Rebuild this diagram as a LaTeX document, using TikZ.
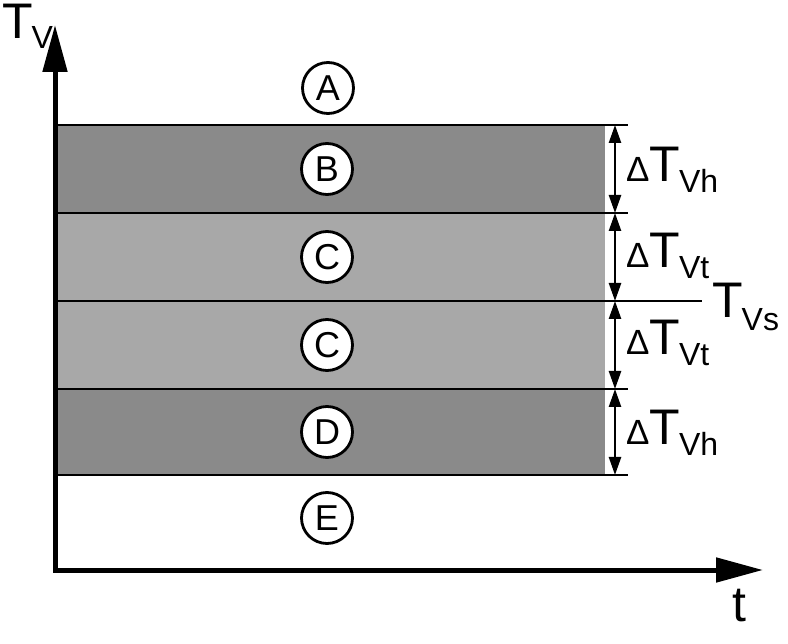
\documentclass[tikz,border=0pt]{standalone}
\usepackage{fontspec}
\setmainfont{Liberation Sans}
\usetikzlibrary{arrows.meta}
\definecolor{darkband}{RGB}{138,138,138}
\definecolor{lightband}{RGB}{168,168,168}
\newcommand{\dlbl}[1]{{\fontsize{35}{35}\selectfont Δ}T\kern-1pt\raisebox{-11pt}{\fontsize{32}{32}\selectfont #1}}
\begin{document}
\begin{tikzpicture}[x=1pt,y=-1pt,
  bandline/.style={line width=2.6pt},
  dimarrow/.style={line width=2.5pt,{Triangle[length=18pt,width=12pt]}-{Triangle[length=18pt,width=12pt]}},
  axisline/.style={line width=5pt,{Triangle[length=47pt,width=24pt]}-{Triangle[length=47pt,width=24pt]},line join=miter},
  zone/.style={circle,draw,line width=2.8pt,fill=white,minimum size=51pt,inner sep=0pt,font=\fontsize{36}{36}\selectfont},
  lab/.style={anchor=base west,inner sep=0pt,font=\fontsize{50}{50}\selectfont}]
\useasboundingbox (0,0) rectangle (788,644);
% bands
\fill[darkband] (55,125) rectangle (605,213);
\fill[lightband] (55,213) rectangle (605,389);
\fill[darkband] (55,389) rectangle (605,475);
% coordinates
\coordinate (l1a) at (55,125); \coordinate (l1b) at (628,125); \coordinate (d1) at (615,125);
\coordinate (l2a) at (55,213); \coordinate (l2b) at (628,213); \coordinate (d2) at (615,213);
\coordinate (l3a) at (55,301); \coordinate (l3b) at (702,301); \coordinate (d3) at (615,301);
\coordinate (l4a) at (55,389); \coordinate (l4b) at (628,389); \coordinate (d4) at (615,389);
\coordinate (l5a) at (55,475); \coordinate (l5b) at (628,475); \coordinate (d5) at (615,475);
\draw[bandline] (l1a) -- (l1b);
\draw[bandline] (l2a) -- (l2b);
\draw[bandline] (l3a) -- (l3b);
\draw[bandline] (l4a) -- (l4b);
\draw[bandline] (l5a) -- (l5b);
% dimension arrows
\draw[dimarrow] (d1) -- (d2);
\draw[dimarrow] (d2) -- (d3);
\draw[dimarrow] (d3) -- (d4);
\draw[dimarrow] (d4) -- (d5);
% axes
\coordinate (ytip) at (55,25);
\coordinate (origin) at (55,570);
\coordinate (xtip) at (763,570);
\draw[axisline] (ytip) -- (origin) -- (xtip);
% zones
\node[zone] (zA) at (328,88) {A};
\node[zone] (zB) at (327,169) {B};
\node[zone] (zC1) at (327,257) {C};
\node[zone] (zC2) at (327,345) {C};
\node[zone] (zD) at (327,432) {D};
\node[zone] (zE) at (327,518) {E};
% labels
\node[lab] (tv) at (2,39) {T\kern-1pt\raisebox{-10pt}{\fontsize{32}{32}\selectfont V}};
\node[lab] (dh1) at (626,182) {\dlbl{Vh}};
\node[lab] (dt1) at (626,268) {\dlbl{Vt}};
\node[lab] (dt2) at (626,355) {\dlbl{Vt}};
\node[lab] (dh2) at (626,445) {\dlbl{Vh}};
\node[lab] (tvs) at (712,318) {T\kern-1pt\raisebox{-13pt}{\fontsize{32}{32}\selectfont Vs}};
\node[lab] (tt) at (732,621) {t};
\end{tikzpicture}
\end{document}
